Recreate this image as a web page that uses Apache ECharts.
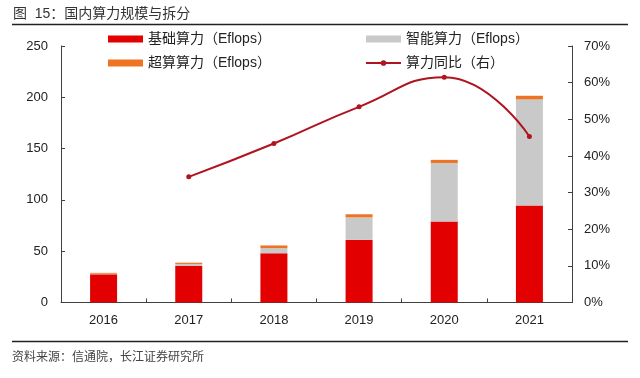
<!DOCTYPE html>
<html>
<head>
<meta charset="utf-8">
<script src="https://cdn.jsdelivr.net/npm/echarts@6/dist/echarts.min.js"></script>
<style>html,body{margin:0;padding:0;background:#fff}#c{width:640px;height:378px}</style>
</head>
<body>
<div id="c"></div>
<script>
var years = ['2016', '2017', '2018', '2019', '2020', '2021'];
var basic = [27.5, 35.6, 48, 61, 79, 94.5];
var smart = [0.6, 2.0, 5.0, 22, 57, 103.5];
var superc = [0.8, 1.2, 2.6, 3, 3, 3.5];
var growth = [null, 34.3, 43.4, 53.4, 61.5, 45.3];
var leftTicks = [0, 50, 100, 150, 200, 250];
var rightTicks = [0, 10, 20, 30, 40, 50, 60, 70];

var FONT = "'Liberation Sans', 'Noto Sans CJK SC', sans-serif";
var chart = echarts.init(document.getElementById('c'));
var axisLine = {show: true, lineStyle: {color: '#404040', width: 1}};
chart.setOption({
  animation: false,
  textStyle: {fontFamily: FONT},
  title: {
    text: '图  15：国内算力规模与拆分', left: 13, top: 7, padding: 0,
    textStyle: {fontSize: 14, fontWeight: 'normal', color: '#333', fontFamily: FONT}
  },
  graphic: [
    {type: 'line', shape: {x1: 12, y1: 24.5, x2: 628, y2: 24.5}, style: {stroke: '#222', lineWidth: 1.5}},
    {type: 'line', shape: {x1: 12, y1: 341.5, x2: 628, y2: 341.5}, style: {stroke: '#222', lineWidth: 1.5}},
    {type: 'text', left: 12, top: 352, style: {text: '资料来源：信通院，长江证券研究所', fontSize: 12, fill: '#444', fontFamily: FONT}}
  ],
  legend: [
    {
      orient: 'vertical', left: 108, top: 32, padding: 0, itemWidth: 35, itemHeight: 7, itemGap: 10,
      textStyle: {fontSize: 14, color: '#222', fontFamily: FONT},
      data: [{name: '基础算力（Eflops）', icon: 'rect'}, {name: '超算算力（Eflops）', icon: 'rect'}]
    },
    {
      orient: 'vertical', left: 365, top: 32, padding: 0, itemWidth: 35, itemHeight: 7, itemGap: 10,
      textStyle: {fontSize: 14, color: '#222', fontFamily: FONT},
      data: [{name: '智能算力（Eflops）', icon: 'rect'}, {name: '算力同比（右）'}]
    }
  ],
  grid: {left: 61, right: 68, top: 46, bottom: 75.5},
  xAxis: {
    type: 'category', data: years,
    axisLine: axisLine,
    axisTick: {show: true, inside: true, length: 4, lineStyle: {color: '#404040'}},
    axisLabel: {fontSize: 13, color: '#222', margin: 11, fontFamily: FONT}
  },
  yAxis: [
    {
      type: 'value', min: leftTicks[0], max: leftTicks[leftTicks.length - 1], interval: 50,
      axisLine: axisLine,
      axisTick: {show: true, inside: true, length: 4, lineStyle: {color: '#404040'}},
      splitLine: {show: false},
      axisLabel: {fontSize: 13, color: '#222', margin: 13, fontFamily: FONT}
    },
    {
      type: 'value', min: rightTicks[0], max: rightTicks[rightTicks.length - 1], interval: 10,
      axisLine: axisLine,
      axisTick: {show: true, inside: true, length: 4, lineStyle: {color: '#404040'}},
      splitLine: {show: false},
      axisLabel: {fontSize: 13, color: '#222', margin: 12, formatter: '{value}%', fontFamily: FONT}
    }
  ],
  series: [
    {name: '基础算力（Eflops）', type: 'bar', stack: 'a', data: basic, barWidth: 27, itemStyle: {color: '#E20000'}},
    {name: '智能算力（Eflops）', type: 'bar', stack: 'a', data: smart, barWidth: 27, itemStyle: {color: '#C9C9C9'}},
    {name: '超算算力（Eflops）', type: 'bar', stack: 'a', data: superc, barWidth: 27, itemStyle: {color: '#EE7423'}},
    {
      name: '算力同比（右）', type: 'line', yAxisIndex: 1, data: growth, smooth: true,
      symbol: 'circle', symbolSize: 5, connectNulls: false,
      lineStyle: {color: '#B0141E', width: 2}, itemStyle: {color: '#B0141E'}
    }
  ]
});
</script>
</body>
</html>
